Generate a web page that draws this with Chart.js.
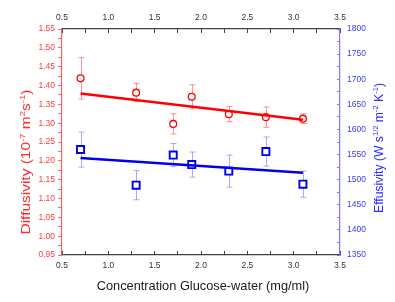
<!DOCTYPE html>
<html>
<head>
<meta charset="utf-8">
<script src="https://cdn.jsdelivr.net/npm/chart.js@4.4.1/dist/chart.umd.min.js"></script>
<style>
  html, body { margin:0; padding:0; background:#fff; }
  #wrap { width:395px; height:302px; }
</style>
</head>
<body>
<div id="wrap"><canvas id="c" width="395" height="302"></canvas></div>
<script>
// concentration (mg/ml)
const conc = [0.7, 1.3, 1.7, 1.9, 2.3, 2.7, 3.1];
// diffusivity (1e-7 m2/s) and its error
const diff = [1.419, 1.381, 1.298, 1.370, 1.324, 1.316, 1.312];
const diffErr = [0.055, 0.024, 0.027, 0.032, 0.020, 0.027, 0.013];
// effusivity and its error
const eff = [1560, 1489, 1549, 1530, 1517, 1556, 1491];
const effErr = [35, 29, 23, 25, 32, 29, 26];
// linear fits, end points
const fitX = [0.7, 3.1];
const diffFit = [1.379, 1.309];
const effFit = [1543, 1514];

const RED = '#ff0000', BLUE = '#0000ee';
const FONT = 'Arial, "Liberation Sans", sans-serif';

const pts = (xs, ys) => xs.map((x, i) => ({ x: x, y: ys[i] }));

// error bars drawn behind the markers
const errorBars = {
  id: 'errorBars',
  beforeDatasetsDraw(chart) {
    const ctx = chart.ctx, sx = chart.scales.x;
    const sets = [
      { y: chart.scales.y, v: diff, e: diffErr, c: 'rgba(255,60,60,0.55)' },
      { y: chart.scales.y2, v: eff, e: effErr, c: 'rgba(90,90,255,0.5)' }
    ];
    ctx.save();
    ctx.lineWidth = 1;
    sets.forEach(s => {
      ctx.strokeStyle = s.c;
      conc.forEach((x, i) => {
        const px = Math.round(sx.getPixelForValue(x)) + 0.5;
        const top = s.y.getPixelForValue(s.v[i] + s.e[i]);
        const bot = s.y.getPixelForValue(s.v[i] - s.e[i]);
        ctx.beginPath();
        ctx.moveTo(px, top); ctx.lineTo(px, bot);
        ctx.moveTo(px - 3, top); ctx.lineTo(px + 3, top);
        ctx.moveTo(px - 3, bot); ctx.lineTo(px + 3, bot);
        ctx.stroke();
      });
    });
    ctx.restore();
  }
};

// rotated axis titles with superscripts
function richTitle(ctx, parts, cx, cy, size, len, color) {
  ctx.save();
  ctx.translate(cx, cy);
  ctx.rotate(-Math.PI / 2);
  let w = 0;
  parts.forEach(p => {
    ctx.font = (p[1] ? size * 0.62 : size) + 'px ' + FONT;
    w += ctx.measureText(p[0]).width;
  });
  ctx.scale(len / w, 1);
  ctx.fillStyle = color;
  ctx.textBaseline = 'alphabetic';
  let x = -w / 2;
  parts.forEach(p => {
    ctx.font = (p[1] ? size * 0.62 : size) + 'px ' + FONT;
    ctx.fillText(p[0], x, p[1] ? -size * 0.42 : 0);
    x += ctx.measureText(p[0]).width;
  });
  ctx.restore();
}

const titles = {
  id: 'titles',
  afterDraw(chart) {
    const ctx = chart.ctx;
    richTitle(ctx, [['Diffusivity (10', 0], ['-7', 1], [' m', 0], ['2', 1], ['s', 0], ['-1', 1], [')', 0]],
      30, 162, 12, 145, '#ff2a2a');
    richTitle(ctx, [['Effusivity (W s', 0], ['1/2', 1], [' m', 0], ['-2', 1], [' K', 0], ['-1', 1], [')', 0]],
      383, 148, 12.5, 130, '#2a2aff');
    ctx.save();
    ctx.font = '12.8px ' + FONT;
    ctx.fillStyle = '#1a1a1a';
    ctx.textAlign = 'center';
    ctx.textBaseline = 'middle';
    ctx.fillText('Concentration Glucose-water (mg/ml)', 203, 286);
    ctx.restore();
  }
};

const major = (v, step, dec) => Math.abs(Math.round(v / step) * step - v) < 1e-6 ? v.toFixed(dec) : '';

// top and bottom axes, ticks pointing into the plot
const xAxis = (pos) => ({
  type: 'linear', position: pos, min: 0.5, max: 3.5,
  afterFit: s => { s.height = pos === 'top' ? 29 : 47; },
  ticks: { stepSize: 0.25, autoSkip: false, maxRotation: 0, padding: 10,
    color: '#333', font: { size: 8.5, family: FONT },
    callback: v => major(v, 0.5, 1) },
  grid: { drawOnChartArea: false, tickLength: -4, color: '#444' },
  border: { color: '#444', width: 1.2 }
});

new Chart(document.getElementById('c'), {
  type: 'scatter',
  data: {
    datasets: [
      { data: pts(fitX, diffFit), showLine: true, borderColor: RED, borderWidth: 2.5, pointRadius: 0, yAxisID: 'y' },
      { data: pts(fitX, effFit), showLine: true, borderColor: BLUE, borderWidth: 2.5, pointRadius: 0, yAxisID: 'y2' },
      { data: pts(conc, diff), pointStyle: 'circle', pointRadius: 3.4, borderWidth: 1.3,
        borderColor: RED, backgroundColor: '#fff', yAxisID: 'y' },
      { data: pts(conc, eff), pointStyle: 'rect', pointRadius: 5, borderWidth: 1.9,
        borderColor: BLUE, backgroundColor: '#fff', yAxisID: 'y2' }
    ]
  },
  options: {
    responsive: false, animation: false, devicePixelRatio: 1,
    layout: { padding: 0 },
    plugins: { legend: { display: false }, tooltip: { enabled: false } },
    scales: {
      x: xAxis('bottom'),
      x2: xAxis('top'),
      y: {
        type: 'linear', position: 'left', min: 0.95, max: 1.55,
        afterFit: s => { s.width = 62; },
        ticks: { stepSize: 0.025, autoSkip: false, padding: 3, color: '#ff3b3b',
          font: { size: 8.5, family: FONT }, callback: v => major(v, 0.05, 2) },
        grid: { drawOnChartArea: false, tickLength: 4, color: '#ff6a6a' },
        border: { color: '#ff6060', width: 1.2 }
      },
      y2: {
        type: 'linear', position: 'right', min: 1350, max: 1800,
        afterFit: s => { s.width = 55; },
        ticks: { stepSize: 25, autoSkip: false, padding: 10, color: '#3b3bff',
          font: { size: 8.5, family: FONT }, callback: v => major(v, 50, 0) },
        grid: { drawOnChartArea: false, tickLength: -3, color: '#7a7aff' },
        border: { color: '#7a7aff', width: 1.2 }
      }
    }
  },
  plugins: [errorBars, titles]
});
</script>
</body>
</html>
